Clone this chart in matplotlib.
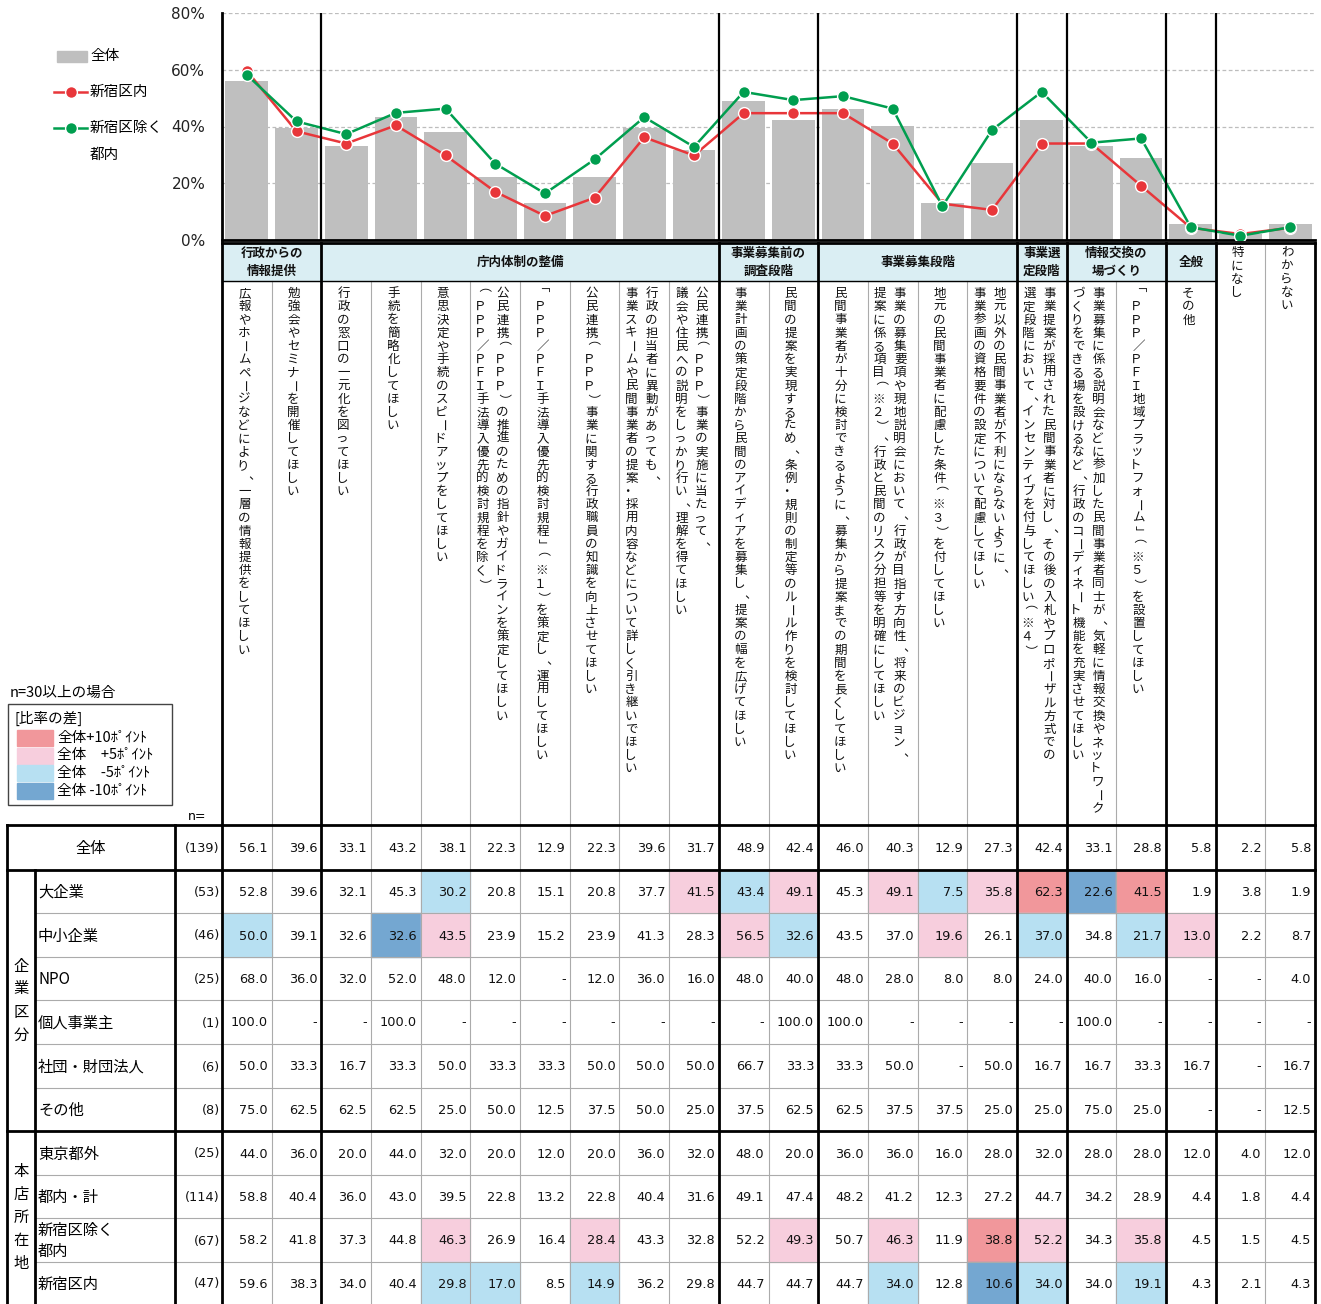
import numpy as np
import matplotlib
matplotlib.use("Agg")
import matplotlib.pyplot as plt
from matplotlib.patches import Rectangle
from matplotlib.lines import Line2D
from matplotlib.textpath import TextPath
from matplotlib.font_manager import FontProperties

JP = "Noto Sans CJK JP"
plt.rcParams["font.family"] = [JP, "DejaVu Sans"]
NUMF = ["DejaVu Sans", JP]

# ---------------- data ----------------
group_names = ["行政からの\n情報提供", "庁内体制の整備", "事業募集前の\n調査段階", "事業募集段階",
               "事業選\n定段階", "情報交換の\n場づくり", "全般"]
group_sizes = [2, 8, 2, 4, 1, 2, 1]

item_labels = [
    ["広報やホームページなどにより、一層の情報提供をしてほしい"],
    ["勉強会やセミナーを開催してほしい"],
    ["行政の窓口の一元化を図ってほしい"],
    ["手続を簡略化してほしい"],
    ["意思決定や手続のスピードアップをしてほしい"],
    ["公民連携（ＰＰＰ）の推進のための指針やガイドラインを策定してほしい",
     "（ＰＰＰ／ＰＦＩ手法導入優先的検討規程を除く）"],
    ["「ＰＰＰ／ＰＦＩ手法導入優先的検討規程」（※１）を策定し、運用してほしい"],
    ["公民連携（ＰＰＰ）事業に関する行政職員の知識を向上させてほしい"],
    ["行政の担当者に異動があっても、",
     "事業スキームや民間事業者の提案・採用内容などについて詳しく引き継いでほしい"],
    ["公民連携（ＰＰＰ）事業の実施に当たって、",
     "議会や住民への説明をしっかり行い、理解を得てほしい"],
    ["事業計画の策定段階から民間のアイディアを募集し、提案の幅を広げてほしい"],
    ["民間の提案を実現するため、条例・規則の制定等のルール作りを検討してほしい"],
    ["民間事業者が十分に検討できるように、募集から提案までの期間を長くしてほしい"],
    ["事業の募集要項や現地説明会において、行政が目指す方向性、将来のビジョン、",
     "提案に係る項目（※２）、行政と民間のリスク分担等を明確にしてほしい"],
    ["地元の民間事業者に配慮した条件（※３）を付してほしい"],
    ["地元以外の民間事業者が不利にならないように、",
     "事業参画の資格要件の設定について配慮してほしい"],
    ["事業提案が採用された民間事業者に対し、その後の入札やプロポーザル方式での",
     "選定段階において、インセンティブを付与してほしい（※４）"],
    ["事業募集に係る説明会などに参加した民間事業者同士が、気軽に情報交換やネットワーク",
     "づくりをできる場を設けるなど、行政のコーディネート機能を充実させてほしい"],
    ["「ＰＰＰ／ＰＦＩ地域プラットフォーム」（※５）を設置してほしい"],
    ["その他"],
    ["特になし"],
    ["わからない"],
]

row_labels = ["全体", "大企業", "中小企業", "NPO", "個人事業主", "社団・財団法人", "その他",
              "東京都外", "都内・計", "新宿区除く\n都内", "新宿区内"]
row_n = [139, 53, 46, 25, 1, 6, 8, 25, 114, 67, 47]
section_names = ["企業区分", "本店所在地"]
section_rows = [(1, 7), (7, 11)]

zentai = [56.1, 39.6, 33.1, 43.2, 38.1, 22.3, 12.9, 22.3, 39.6, 31.7, 48.9, 42.4, 46.0, 40.3, 12.9, 27.3, 42.4, 33.1, 28.8, 5.8, 2.2, 5.8]
dai_kigyo = [52.8, 39.6, 32.1, 45.3, 30.2, 20.8, 15.1, 20.8, 37.7, 41.5, 43.4, 49.1, 45.3, 49.1, 7.5, 35.8, 62.3, 22.6, 41.5, 1.9, 3.8, 1.9]
chusho = [50.0, 39.1, 32.6, 32.6, 43.5, 23.9, 15.2, 23.9, 41.3, 28.3, 56.5, 32.6, 43.5, 37.0, 19.6, 26.1, 37.0, 34.8, 21.7, 13.0, 2.2, 8.7]
npo = [68.0, 36.0, 32.0, 52.0, 48.0, 12.0, None, 12.0, 36.0, 16.0, 48.0, 40.0, 48.0, 28.0, 8.0, 8.0, 24.0, 40.0, 16.0, None, None, 4.0]
kojin = [100.0, None, None, 100.0, None, None, None, None, None, None, None, 100.0, 100.0, None, None, None, None, 100.0, None, None, None, None]
dantai = [50.0, 33.3, 16.7, 33.3, 50.0, 33.3, 33.3, 50.0, 50.0, 50.0, 66.7, 33.3, 33.3, 50.0, None, 50.0, 16.7, 16.7, 33.3, 16.7, None, 16.7]
sonota = [75.0, 62.5, 62.5, 62.5, 25.0, 50.0, 12.5, 37.5, 50.0, 25.0, 37.5, 62.5, 62.5, 37.5, 37.5, 25.0, 25.0, 75.0, 25.0, None, None, 12.5]
togai = [44.0, 36.0, 20.0, 44.0, 32.0, 20.0, 12.0, 20.0, 36.0, 32.0, 48.0, 20.0, 36.0, 36.0, 16.0, 28.0, 32.0, 28.0, 28.0, 12.0, 4.0, 12.0]
tonai_kei = [58.8, 40.4, 36.0, 43.0, 39.5, 22.8, 13.2, 22.8, 40.4, 31.6, 49.1, 47.4, 48.2, 41.2, 12.3, 27.2, 44.7, 34.2, 28.9, 4.4, 1.8, 4.4]
shinjuku_jogai = [58.2, 41.8, 37.3, 44.8, 46.3, 26.9, 16.4, 28.4, 43.3, 32.8, 52.2, 49.3, 50.7, 46.3, 11.9, 38.8, 52.2, 34.3, 35.8, 4.5, 1.5, 4.5]
shinjuku_nai = [59.6, 38.3, 34.0, 40.4, 29.8, 17.0, 8.5, 14.9, 36.2, 29.8, 44.7, 44.7, 44.7, 34.0, 12.8, 10.6, 34.0, 34.0, 19.1, 4.3, 2.1, 4.3]

table_rows = [zentai, dai_kigyo, chusho, npo, kojin, dantai, sonota,
              togai, tonai_kei, shinjuku_jogai, shinjuku_nai]

key_labels = ["全体+10ﾎﾟｲﾝﾄ", "全体　+5ﾎﾟｲﾝﾄ", "全体　-5ﾎﾟｲﾝﾄ", "全体 -10ﾎﾟｲﾝﾄ"]

# ---------------- style ----------------
C_BAR = "#BFBFBF"
C_RED = "#E8363A"
C_GREEN = "#009E4F"
C_P10 = "#F1979B"
C_P5 = "#F7CEDD"
C_M5 = "#B7E0F2"
C_M10 = "#74A7D1"
key_colors = [C_P10, C_P5, C_M5, C_M10]
C_HEAD = "#DAEEF3"
C_THIN = "#ABABAB"

W, H = 1321, 1304
X0, X1 = 222, 1315
NC = len(zentai)
cw = (X1 - X0) / NC
CH_TOP, CH_BOT = 13, 240
HEAD_TOP, HEAD_BOT = 243, 281
row_bounds = [825, 870, 913, 957, 1000, 1044, 1088, 1131, 1175, 1218, 1262, 1304]

fig = plt.figure(figsize=(W / 100, H / 100), dpi=100)
ov = fig.add_axes([0, 0, 1, 1], zorder=0)
ov.set_xlim(0, W)
ov.set_ylim(H, 0)
ov.axis("off")

ax = fig.add_axes([X0 / W, 1 - CH_BOT / H, (X1 - X0) / W, (CH_BOT - CH_TOP) / H], zorder=1)
ax.patch.set_alpha(0)

# ---------------- chart ----------------
x = np.arange(NC)
ax.bar(x, zentai, width=0.86, color=C_BAR, zorder=2)
ax.plot(x, shinjuku_nai, color=C_RED, lw=1.8, marker="o", ms=8.5, mfc=C_RED,
        mec="white", mew=1.0, zorder=4)
ax.plot(x, shinjuku_jogai, color=C_GREEN, lw=1.8, marker="o", ms=8.5, mfc=C_GREEN,
        mec="white", mew=1.0, zorder=5)
ax.set_xlim(-0.5, NC - 0.5)
ax.set_ylim(0, 80)
ax.set_yticks([0, 20, 40, 60, 80])
ax.set_yticklabels([f"{v}%" for v in [0, 20, 40, 60, 80]], family=NUMF)
ax.tick_params(axis="y", length=0, pad=12, labelsize=11, labelcolor="#222222")
ax.set_xticks([])
ax.yaxis.grid(True, ls=(0, (3, 2)), color="#BDBDBD", lw=0.9)
ax.set_axisbelow(True)
for s in ["top", "right"]:
    ax.spines[s].set_visible(False)
ax.spines["left"].set_linewidth(2)
ax.spines["bottom"].set_linewidth(2)
bounds = np.cumsum(group_sizes)
for b in bounds:
    ax.axvline(b - 0.5, color="black", lw=1.6, zorder=6)

# ---------------- legend (top-left) ----------------
ov.add_patch(Rectangle((57, 51), 30, 11, color=C_BAR))
ov.text(90, 56, "全体", fontsize=10.5, va="center", ha="left")
for yy, col, lab in [(92, C_RED, "新宿区内"), (128, C_GREEN, "新宿区除く")]:
    ov.add_line(Line2D([54, 87], [yy, yy], color=col, lw=1.8))
    ov.add_line(Line2D([70.5], [yy], color=col, marker="o", ms=8.5, mec="white", mew=1.0))
    ov.text(90, yy, lab, fontsize=10.5, va="center", ha="left")
ov.text(90, 155, "都内", fontsize=10.5, va="center", ha="left")

# ---------------- colour key ----------------
ov.text(10, 693, "n=30以上の場合", fontsize=10.5, va="center", ha="left")
ov.add_patch(Rectangle((8, 704), 164, 101, fill=False, ec="#444444", lw=1.0))
ov.text(15, 718, "[比率の差]", fontsize=10.5, va="center", ha="left")
for k, (c, lab) in enumerate(zip(key_colors, key_labels)):
    y0 = 730 + k * 17.5
    ov.add_patch(Rectangle((17, y0), 36, 16, color=c))
    ov.text(57, y0 + 8, lab, fontsize=10.5, va="center", ha="left")
ov.text(188, 816, "n=", fontsize=9, va="center", ha="left", family=NUMF)

# ---------------- header row ----------------
def colx(i):
    return X0 + i * cw

start = 0
for name, size in zip(group_names, group_sizes):
    ov.add_patch(Rectangle((colx(start), HEAD_TOP), size * cw, HEAD_BOT - HEAD_TOP,
                           color=C_HEAD, zorder=0))
    ov.text(colx(start) + size * cw / 2, (HEAD_TOP + HEAD_BOT) / 2 + 0.5, name,
            fontsize=9, fontweight="bold", ha="center", va="center",
            linespacing=1.55, color="#111111")
    start += size

# ---------------- vertical item labels ----------------
ROT = set("ー（）「」～－")
PITCH = 13.2
LFS = 9
_fp = FontProperties(family=JP)
_lsb_cache = {}

def left_bearing(ch, fs):
    key = (ch, fs)
    if key not in _lsb_cache:
        try:
            ext = TextPath((0, 0), ch, size=fs * 100 / 72, prop=_fp).get_extents()
            _lsb_cache[key] = ext.x0 if np.isfinite(ext.x0) else 0.0
        except Exception:
            _lsb_cache[key] = 0.0
    return _lsb_cache[key]

def vtext(xc, ytop, s, fs=LFS):
    for k, ch in enumerate(s):
        yc = ytop + (k + 0.5) * PITCH
        dx = -left_bearing(ch, fs)
        rot = 0
        if ch in ROT:
            rot = -90
        if ch in "、。":
            rot = 180
            dx += 2.5
        ov.text(xc + dx, yc, ch, fontsize=fs, rotation=rot, ha="center",
                va="center", color="#111111")

for i, lines in enumerate(item_labels):
    xc = colx(i) + cw / 2
    ytop = 287 if i < 20 else 246
    if len(lines) == 1:
        vtext(xc - 2, ytop, lines[0])
    else:
        vtext(xc + 8, ytop, lines[0])
        vtext(xc - 12, ytop, lines[1])

# ---------------- table cells ----------------
def shade(v, base, n):
    if v is None or n < 30:
        return None
    d = round(v - base, 1)
    if d >= 10:
        return C_P10
    if d > 5:
        return C_P5
    if d <= -10:
        return C_M10
    if d < -5:
        return C_M5
    return None

for r, (vals, n) in enumerate(zip(table_rows, row_n)):
    ya, yb = row_bounds[r], row_bounds[r + 1]
    yc = (ya + yb) / 2 + 1
    for i, v in enumerate(vals):
        c = shade(v, zentai[i], n) if r > 0 else None
        if c:
            ov.add_patch(Rectangle((colx(i), ya), cw, yb - ya, color=c, zorder=0))
        txt = "-" if v is None else f"{v:.1f}"
        ov.text(colx(i + 1) - 4, yc, txt, fontsize=9.3, ha="right", va="center",
                family=NUMF, color="#111111")
    ov.text(220, yc, f"({n})", fontsize=9.3, ha="right", va="center",
            family=NUMF, color="#111111")
    if r == 0:
        ov.text(91, yc, row_labels[r], fontsize=11, ha="center", va="center")
    else:
        ov.text(38, yc, row_labels[r], fontsize=11, ha="left", va="center",
                linespacing=1.35)

for name, (ra, rb) in zip(section_names, section_rows):
    ymid = (row_bounds[ra] + row_bounds[rb]) / 2
    nch = len(name)
    for k, ch in enumerate(name):
        ov.text(21, ymid + (k - (nch - 1) / 2) * 23, ch, fontsize=11,
                ha="center", va="center")

# ---------------- grid lines ----------------
thick_cols = [0] + list(bounds) + [NC]
for i in range(NC + 1):
    xx = colx(i)
    if i in thick_cols:
        ov.add_line(Line2D([xx, xx], [HEAD_TOP, H], color="black", lw=2, zorder=3))
    elif i == 21:
        ov.add_line(Line2D([xx, xx], [HEAD_TOP, H], color=C_THIN, lw=0.8, zorder=2))
    else:
        ov.add_line(Line2D([xx, xx], [HEAD_BOT, H], color=C_THIN, lw=0.8, zorder=2))

ov.add_line(Line2D([X0, X1], [HEAD_TOP, HEAD_TOP], color="black", lw=2, zorder=3))
ov.add_line(Line2D([X0, colx(20)], [HEAD_BOT, HEAD_BOT], color="black", lw=1, zorder=3))

for yy in row_bounds:
    if yy in (825, 870, 1131):
        ov.add_line(Line2D([7, X1], [yy, yy], color="black", lw=2, zorder=3))
    elif yy < H:
        ov.add_line(Line2D([35, X1], [yy, yy], color=C_THIN, lw=0.8, zorder=2))

ov.add_line(Line2D([7, 7], [825, H], color="black", lw=2, zorder=3))
ov.add_line(Line2D([35, 35], [870, H], color="black", lw=2, zorder=3))
ov.add_line(Line2D([175, 175], [825, H], color="black", lw=2, zorder=3))

fig.savefig("out.png", dpi=100)
